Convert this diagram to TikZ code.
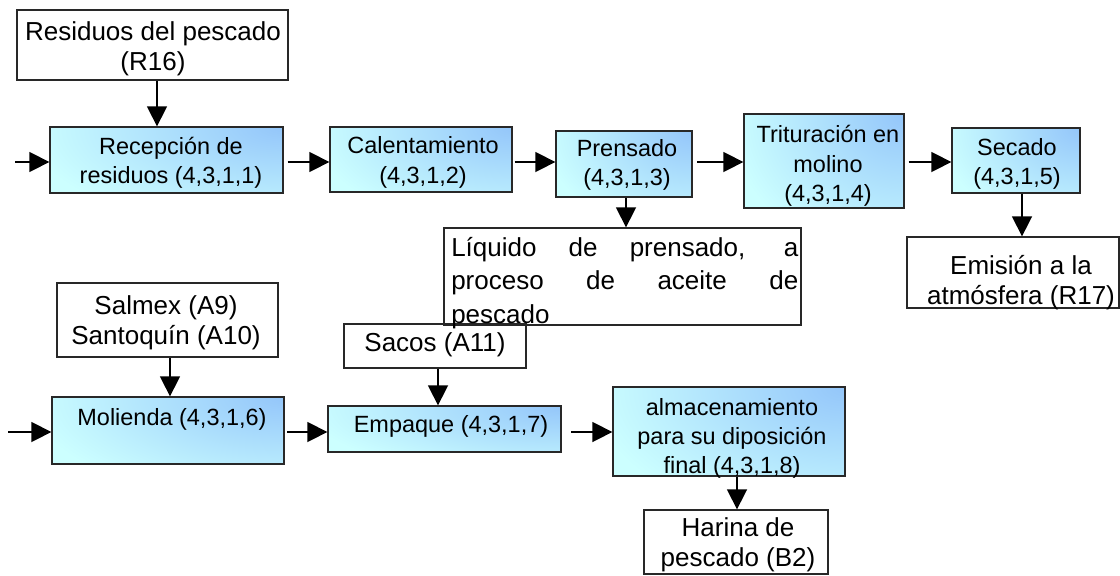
\documentclass[tikz,border=0pt]{standalone}
\usepackage{fontspec}
\setmainfont{Liberation Sans}
\usetikzlibrary{arrows.meta}
\definecolor{procA}{RGB}{204,255,255}
\definecolor{procB}{RGB}{148,198,250}
\definecolor{edge}{RGB}{40,40,40}
\begin{document}
\begin{tikzpicture}[x=0.75pt,y=-0.75pt,
  sz/.style 2 args={minimum width=#1*0.75pt, minimum height=#2*0.75pt},
  basebox/.style={draw=edge, line width=1pt, inner sep=0pt, rectangle},
  wbox/.style={basebox, fill=white},
  pbox/.style 2 args={basebox, sz={#1}{#2}, fill=procA,
    path picture={
      \shade[inner color=procB, outer color=procA]
        (path picture bounding box.north east) ellipse [x radius=#1*1.1*0.75pt, y radius=#2*1.6*0.75pt];
    }},
  wtxt/.style={inner sep=0pt, align=center, font=\fontsize{19.5}{22.5}\selectfont},
  ptxt/.style={inner sep=0pt, align=center, font=\fontsize{17.6}{22}\selectfont},
  arr/.style={draw=black, line width=1.2pt, -{Triangle[length=15pt,width=15pt]}},
]
\useasboundingbox (0,0) rectangle (1120,575);

% upper row
\node[wbox, sz={271}{70}] (res) at (152.5,45) {};
\node[wtxt] (rest) at (153,49) {Residuos del pescado\\(R16)};

\node[pbox={233}{66}] (rec) at (166.5,160) {};
\node[ptxt] (rect) at (171,163) {Recepción de\\residuos (4,3,1,1)};

\node[pbox={182}{65}] (cal) at (421,159.5) {};
\node[ptxt] (calt) at (423,162.5) {Calentamiento\\(4,3,1,2)};

\node[pbox={136}{66}] (pre) at (624,164) {};
\node[ptxt] (pret) at (627,165) {Prensado\\(4,3,1,3)};

\node[pbox={160}{94}] (tri) at (824,161) {};
\node[ptxt] (trit) at (828,166) {Trituración en\\molino\\(4,3,1,4)};

\node[pbox={128}{65}] (sec) at (1016,160.5) {};
\node[ptxt] (sect) at (1017,164) {Secado\\(4,3,1,5)};

\node[wbox, sz={212}{71}] (emi) at (1013,272.5) {};
\node[wtxt] (emit) at (1021,283) {Emisión a la\\atmósfera (R17)};

% middle
\node[wbox, sz={221}{74}] (sal) at (167.5,320) {};
\node[wtxt] (salt) at (166,323) {Salmex (A9)\\Santoquín (A10)};

\node[wbox, sz={182}{44}] (sac) at (435,346) {};
\node[wtxt] (sact) at (435,345) {Sacos (A11)};

\node[basebox, sz={357}{97}] (liq) at (622.5,276.5) {};
\node[inner sep=0pt, align=justify, text width=347*0.75pt, anchor=north west,
      font=\fontsize{19.5}{25}\selectfont] (liqt) at (451,237)
      {\noindent Líquido de prensado, a\linebreak proceso de aceite de\linebreak pescado};

% lower row
\node[pbox={232}{67}] (mol) at (168,430.5) {};
\node[ptxt] (molt) at (172,419) {Molienda (4,3,1,6)};

\node[pbox={233}{46}] (emp) at (444.5,429) {};
\node[ptxt] (empt) at (451,426) {Empaque (4,3,1,7)};

\node[pbox={232}{89}] (alm) at (729,431.5) {};
\node[ptxt] (almt) at (732,438.5)
      {almacenamiento\\para su diposición\\final (4,3,1,8)};

\node[wbox, sz={184}{64}] (har) at (736,542) {};
\node[wtxt] (hart) at (738,545) {Harina de\\pescado (B2)};

% helper coordinates
\coordinate (in1) at (15,162);
\coordinate (in2) at (8,432);
\coordinate (xa) at (157,0);
\coordinate (xb) at (626,0);
\coordinate (xc) at (1022,0);
\coordinate (xd) at (170,0);
\coordinate (xe) at (438,0);
\coordinate (xf) at (737,0);

% connectors
\draw[arr] (in1) -- (in1 -| rec.west);
\draw[arr, shorten <=3pt] (rec.east |- in1) -- (cal.west |- in1);
\draw[arr, shorten <=1.5pt] (cal.east |- in1) -- (pre.west |- in1);
\draw[arr, shorten <=3.5pt] (pre.east |- in1) -- (tri.west |- in1);
\draw[arr, shorten <=3pt] (tri.east |- in1) -- (sec.west |- in1);
\draw[arr] (res.south -| xa) -- (rec.north -| xa);
\draw[arr] (pre.south -| xb) -- (liq.north -| xb);
\draw[arr] (sec.south -| xc) -- (emi.north -| xc);
\draw[arr] (in2) -- (in2 -| mol.west);
\draw[arr, shorten <=2pt] (mol.east |- in2) -- (emp.west |- in2);
\draw[arr, shorten <=7pt] (emp.east |- in2) -- (alm.west |- in2);
\draw[arr] (sal.south -| xd) -- (mol.north -| xd);
\draw[arr] (sac.south -| xe) -- (emp.north -| xe);
\draw[arr] (alm.south -| xf) -- (har.north -| xf);
\end{tikzpicture}
\end{document}
